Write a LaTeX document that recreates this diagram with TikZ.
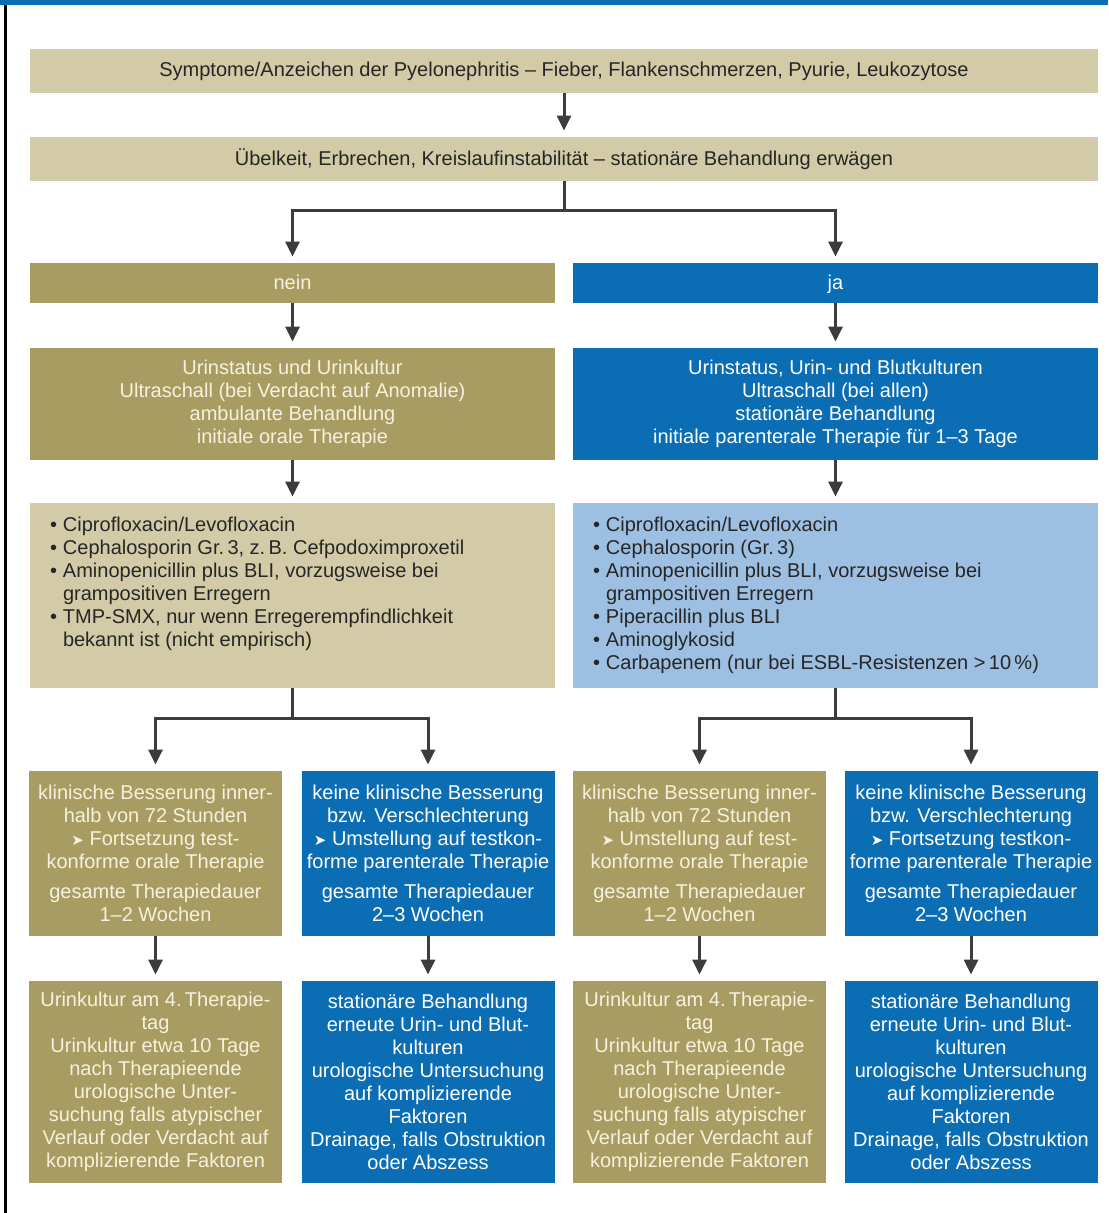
\documentclass[tikz,border=0pt]{standalone}
\usepackage{fontspec}
\setmainfont{Liberation Sans}
\newfontfamily\symfont{DejaVu Sans}
\usetikzlibrary{positioning}
\usetikzlibrary{arrows.meta}
\definecolor{SAND}{HTML}{D3CBA7}
\definecolor{OLIVE}{HTML}{A99C62}
\definecolor{BLUE_D}{HTML}{0B6DB4}
\definecolor{BLUE_L}{HTML}{9DBFE2}
\definecolor{CREAM}{HTML}{F6F1DE}
\definecolor{INK}{HTML}{262626}
\definecolor{ARROW}{HTML}{3C3C3C}
\tikzset{
	every node/.style = {font=\fontsize{10}{11.5}\selectfont, inner sep=0pt, align=center},
	wide/.style = {fill=SAND, text=INK, minimum width=534pt, minimum height=22pt},
	half/.style = {minimum width=262.5pt},
	cell/.style = {minimum width=126.5pt},
	sandbox/.style = {fill=OLIVE, text=CREAM},
	bluebox/.style = {fill=BLUE_D, text=white},
	flow/.style = {-{Triangle[length=7.5pt,width=7pt]}, line width=1.5pt, ARROW, shorten >=3pt}
}
\newcommand\bul[1]{\par\hangindent=6.5pt\hangafter=1\noindent\makebox[6.5pt][l]{\textbullet}#1}
\newcommand\go{{\symfont\fontsize{7.5}{7.5}\selectfont ➤}\ }

\begin{document}
\begin{tikzpicture}[x=0.5pt, y=-0.5pt]
		\useasboundingbox (0,0) rectangle (1108,1213);
		% frame
		\fill[BLUE_D] (0,0) rectangle (1108,5);
		\draw[line width=1.5pt, black] (5,5) -- (5,1213);
		% top rows
		\node[wide] (symp) at (564,71) {Symptome/Anzeichen der Pyelonephritis – Fieber, Flankenschmerzen, Pyurie, Leukozytose};
		\node[wide] (cond) at (564,159) {Übelkeit, Erbrechen, Kreislaufinstabilität – stationäre Behandlung erwägen};
		% nein / ja
		\node[half, minimum height=20pt, text height=8.2pt, text depth=2pt, sandbox] (nein) at (292.5,283) {nein};
		\node[half, minimum height=20pt, text height=8.2pt, text depth=2pt, bluebox] (ja) at (835.5,283) {ja};
		\node[half, minimum height=56pt, sandbox] (ambul) at (292.5,404) {Urinstatus und Urinkultur\\Ultraschall (bei Verdacht auf Anomalie)\\ambulante Behandlung\\initiale orale Therapie};
		\node[half, minimum height=56pt, bluebox] (stat) at (835.5,404) {Urinstatus, Urin- und Blutkulturen\\Ultraschall (bei allen)\\stationäre Behandlung\\initiale parenterale Therapie für 1–3 Tage};
		% antibiotics
		\node[half, minimum height=92.5pt, fill=SAND, text=INK] (oral) at (292.5,595.5) {\begin{minipage}[c][92.5pt][t]{242.5pt}\raggedright\vspace*{7pt}
			\bul{Ciprofloxacin/Levofloxacin}
			\bul{Cephalosporin Gr.\,3, z.\,B. Cefpodoximproxetil}
			\bul{Aminopenicillin plus BLI, vorzugsweise bei\newline grampositiven Erregern}
			\bul{TMP-SMX, nur wenn Erregerempfindlichkeit\newline bekannt ist (nicht empirisch)}
		\end{minipage}};
		\node[half, minimum height=92.5pt, fill=BLUE_L, text=INK] (paren) at (835.5,595.5) {\begin{minipage}[c][92.5pt][t]{242.5pt}\raggedright\vspace*{7pt}
			\bul{Ciprofloxacin/Levofloxacin}
			\bul{Cephalosporin (Gr.\,3)}
			\bul{Aminopenicillin plus BLI, vorzugsweise bei\newline grampositiven Erregern}
			\bul{Piperacillin plus BLI}
			\bul{Aminoglykosid}
			\bul{Carbapenem (nur bei ESBL-Resistenzen >\,10\,\%)}
		\end{minipage}};
		% course
		\node[cell, minimum height=82.5pt, sandbox] (gutL) at (155.5,853.5) {klinische Besserung inner-\\halb von 72 Stunden\\\go Fortsetzung test-\\konforme orale Therapie\\[3.5pt]gesamte Therapiedauer\\1–2 Wochen};
		\node[cell, minimum height=82.5pt, bluebox] (badL) at (428,853.5) {keine klinische Besserung\\bzw. Verschlechterung\\\go Umstellung auf testkon-\\forme parenterale Therapie\\[3.5pt]gesamte Therapiedauer\\2–3 Wochen};
		\node[cell, minimum height=82.5pt, sandbox] (gutR) at (699.5,853.5) {klinische Besserung inner-\\halb von 72 Stunden\\\go Umstellung auf test-\\konforme orale Therapie\\[3.5pt]gesamte Therapiedauer\\1–2 Wochen};
		\node[cell, minimum height=82.5pt, bluebox] (badR) at (971,853.5) {keine klinische Besserung\\bzw. Verschlechterung\\\go Fortsetzung testkon-\\forme parenterale Therapie\\[3.5pt]gesamte Therapiedauer\\2–3 Wochen};
		% follow-up
		\node[cell, minimum height=101pt, sandbox] (kontL) at (155.5,1082) {Urinkultur am 4.\,Therapie-\\tag\\Urinkultur etwa 10 Tage\\nach Therapieende\\urologische Unter-\\suchung falls atypischer\\Verlauf oder Verdacht auf\\komplizierende Faktoren};
		\node[cell, minimum height=101pt, bluebox] (klinL) at (428,1082) {stationäre Behandlung\\erneute Urin- und Blut-\\kulturen\\urologische Untersuchung\\auf komplizierende\\Faktoren\\Drainage, falls Obstruktion\\oder Abszess};
		\node[cell, minimum height=101pt, sandbox] (kontR) at (699.5,1082) {Urinkultur am 4.\,Therapie-\\tag\\Urinkultur etwa 10 Tage\\nach Therapieende\\urologische Unter-\\suchung falls atypischer\\Verlauf oder Verdacht auf\\komplizierende Faktoren};
		\node[cell, minimum height=101pt, bluebox] (klinR) at (971,1082) {stationäre Behandlung\\erneute Urin- und Blut-\\kulturen\\urologische Untersuchung\\auf komplizierende\\Faktoren\\Drainage, falls Obstruktion\\oder Abszess};
		% connectors
		\draw[flow] (symp) -- (cond);
		\draw[flow] (cond.south) -- ++(0,29) -| (nein);
		\draw[flow] (cond.south) -- ++(0,29) -| (ja);
		\draw[flow] (nein) -- (ambul);
		\draw[flow] (ja) -- (stat);
		\draw[flow] (ambul) -- (oral);
		\draw[flow] (stat) -- (paren);
		\draw[flow] (oral.south) -- ++(0,30) -| (gutL);
		\draw[flow] (oral.south) -- ++(0,30) -| (badL);
		\draw[flow] (paren.south) -- ++(0,30) -| (gutR);
		\draw[flow] (paren.south) -- ++(0,30) -| (badR);
		\draw[flow] (gutL) -- (kontL);
		\draw[flow] (badL) -- (klinL);
		\draw[flow] (gutR) -- (kontR);
		\draw[flow] (badR) -- (klinR);
	\end{tikzpicture}
\end{document}
